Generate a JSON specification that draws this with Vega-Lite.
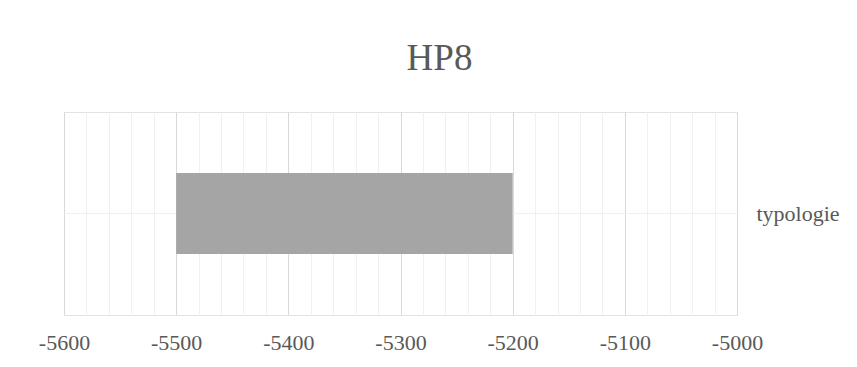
{
  "$schema": "https://vega.github.io/schema/vega-lite/v6.json",
  "autosize": {"type": "none"},
  "width": 673,
  "height": 203,
  "padding": {"left": 64, "top": 112, "right": 120, "bottom": 52},
  "background": "white",
  "title": {
    "text": "HP8",
    "font": "Liberation Serif",
    "fontSize": 37,
    "fontWeight": "normal",
    "color": "#595959",
    "anchor": "middle",
    "dx": 39,
    "baseline": "alphabetic",
    "offset": 5
  },
  "data": {"values": [{"category": "typologie", "start": -5500, "end": -5200}]},
  "mark": {"type": "bar", "color": "#a5a5a5"},
  "encoding": {
    "x": {
      "field": "start",
      "type": "quantitative",
      "scale": {"domain": [-5600, -5000], "nice": false, "zero": false},
      "axis": {
        "title": null,
        "values": [-5600,-5580,-5560,-5540,-5520,-5500,-5480,-5460,-5440,-5420,-5400,-5380,-5360,-5340,-5320,-5300,-5280,-5260,-5240,-5220,-5200,-5180,-5160,-5140,-5120,-5100,-5080,-5060,-5040,-5020,-5000],
        "labelExpr": "datum.value % 100 === 0 ? '' + datum.value : ''",
        "labelOverlap": false,
        "labelFlush": false,
        "grid": true,
        "gridColor": {"expr": "datum.value % 100 === 0 ? '#d9d9d9' : '#f0f0f0'"},
        "gridWidth": 1,
        "domain": false,
        "ticks": false,
        "labelPadding": 17,
        "labelFont": "Liberation Serif",
        "labelFontSize": 22,
        "labelColor": "#595959"
      }
    },
    "x2": {"field": "end"},
    "y": {
      "field": "category",
      "type": "nominal",
      "scale": {"paddingInner": 0.6, "paddingOuter": 0.3},
      "axis": {
        "title": null,
        "orient": "right",
        "grid": true,
        "gridColor": "#f0f0f0",
        "bandPosition": 0.5,
        "domain": false,
        "ticks": false,
        "labelPadding": 19,
        "labelFont": "Liberation Serif",
        "labelFontSize": 22,
        "labelColor": "#595959"
      }
    }
  },
  "config": {"view": {"stroke": "#e3e3e3", "strokeWidth": 1}}
}
